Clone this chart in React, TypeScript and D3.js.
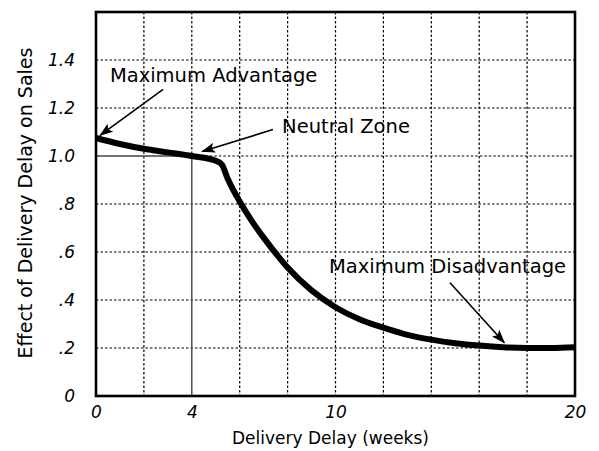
import { axisBottom, axisLeft, curveMonotoneX, line, scaleLinear, select } from "d3";
import { useEffect, useRef } from "react";

const WIDTH = 599;
const HEIGHT = 451;

// delivery delay in weeks
const delayWeeks = [
  0, 1, 2, 3, 4, 5, 5.25, 5.5, 6, 6.5, 7, 7.5, 8, 9, 10, 11, 12, 13, 14, 15, 16, 17, 18, 19, 20,
];
// effect of delivery delay on sales
const salesEffect = [
  1.075, 1.05, 1.03, 1.015, 1.0, 0.98, 0.965, 0.905, 0.81, 0.73, 0.66, 0.595, 0.535, 0.44, 0.37,
  0.32, 0.285, 0.255, 0.235, 0.22, 0.21, 0.203, 0.2, 0.2, 0.203,
];

const xTickValues = [0, 4, 10, 20];
const xGridValues = [2, 6, 8, 10, 12, 14, 16, 18];
const yTickValues = [0, 0.2, 0.4, 0.6, 0.8, 1.0, 1.2, 1.4];
const yTickLabels = ["0", ".2", ".4", ".6", ".8", "1.0", "1.2", "1.4"];

// annotation text + arrow, in data coords
const noteLabels = ["Maximum Advantage", "Neutral Zone", "Maximum Disadvantage"];
const noteTextAt = [
  [0.58, 1.31],
  [7.77, 1.094],
  [9.73, 0.514],
];
const noteArrowFrom = [
  [2.8, 1.278],
  [7.39, 1.11],
  [14.78, 0.472],
];
const noteArrowTo = [
  [0.17, 1.086],
  [4.43, 1.019],
  [17.05, 0.222],
];

const FONT = "'DejaVu Sans', sans-serif";

const DelayChart = () => {
  const ref = useRef<SVGSVGElement>(null);

  useEffect(() => {
    if (!ref.current) return;
    const svg = select(ref.current);
    svg.selectAll("*").remove();

    const left = 96;
    const right = 575;
    const top = 12;
    const bottom = 396;

    const x = scaleLinear().domain([0, 20]).range([left, right]);
    const y = scaleLinear().domain([0, 1.6]).range([bottom, top]);

    const defs = svg.append("defs");
    defs
      .append("marker")
      .attr("id", "head")
      .attr("viewBox", "0 0 14 10")
      .attr("refX", 13)
      .attr("refY", 5)
      .attr("markerWidth", 14)
      .attr("markerHeight", 10)
      .attr("markerUnits", "userSpaceOnUse")
      .attr("orient", "auto")
      .append("path")
      .attr("d", "M0,0 L14,5 L0,10 L3,5 Z")
      .attr("fill", "black");

    // dashed grid
    const grid = svg.append("g");
    grid
      .selectAll(".vgrid")
      .data(xGridValues)
      .join("line")
      .attr("x1", (d) => x(d))
      .attr("x2", (d) => x(d))
      .attr("y1", top)
      .attr("y2", bottom)
      .attr("stroke", "black")
      .attr("stroke-width", 1.2)
      .attr("stroke-dasharray", "2.5,2");
    grid
      .selectAll(".hgrid")
      .data(yTickValues.filter((v) => v > 0 && v !== 1.0))
      .join("line")
      .attr("x1", left)
      .attr("x2", right)
      .attr("y1", (d) => y(d))
      .attr("y2", (d) => y(d))
      .attr("stroke", "black")
      .attr("stroke-width", 1.2)
      .attr("stroke-dasharray", "2.5,2");
    // 1.0 row: solid up to week 4, dashed after
    grid
      .append("line")
      .attr("x1", x(4))
      .attr("x2", right)
      .attr("y1", y(1))
      .attr("y2", y(1))
      .attr("stroke", "black")
      .attr("stroke-width", 1.2)
      .attr("stroke-dasharray", "2.5,2");
    grid
      .append("line")
      .attr("x1", left)
      .attr("x2", x(4))
      .attr("y1", y(1))
      .attr("y2", y(1))
      .attr("stroke", "#444")
      .attr("stroke-width", 1.4);
    grid
      .append("line")
      .attr("x1", x(4))
      .attr("x2", x(4))
      .attr("y1", y(1))
      .attr("y2", bottom)
      .attr("stroke", "#444")
      .attr("stroke-width", 1.4);
    grid
      .append("line")
      .attr("x1", x(4))
      .attr("x2", x(4))
      .attr("y1", top)
      .attr("y2", y(1))
      .attr("stroke", "black")
      .attr("stroke-width", 1.2)
      .attr("stroke-dasharray", "2.5,2");

    // axes (only labels, frame drawn separately)
    const xAxis = axisBottom(x)
      .tickValues(xTickValues)
      .tickSize(0)
      .tickPadding(10)
      .tickFormat((d) => String(d));
    const gx = svg.append("g").attr("transform", `translate(0,${bottom})`).call(xAxis);
    gx.select(".domain").remove();
    gx.selectAll("text")
      .attr("font-family", FONT)
      .attr("font-style", "italic")
      .attr("font-size", 17)
      .attr("fill", "black");

    const yAxis = axisLeft(y)
      .tickValues(yTickValues)
      .tickSize(0)
      .tickPadding(21)
      .tickFormat((_, i) => yTickLabels[i]);
    const gy = svg.append("g").attr("transform", `translate(${left},0)`).call(yAxis);
    gy.select(".domain").remove();
    gy.selectAll("text")
      .attr("font-family", FONT)
      .attr("font-style", "italic")
      .attr("font-size", 17)
      .attr("fill", "black");

    // frame
    svg
      .append("rect")
      .attr("x", left)
      .attr("y", top)
      .attr("width", right - left)
      .attr("height", bottom - top)
      .attr("fill", "none")
      .attr("stroke", "black")
      .attr("stroke-width", 2.6);

    // curve
    const points = delayWeeks.map((w, i) => [w, salesEffect[i]] as [number, number]);
    const path = line<[number, number]>()
      .x((d) => x(d[0]))
      .y((d) => y(d[1]))
      .curve(curveMonotoneX);
    svg
      .append("path")
      .attr("d", path(points))
      .attr("fill", "none")
      .attr("stroke", "black")
      .attr("stroke-width", 6)
      .attr("stroke-linejoin", "round");

    // annotations
    noteLabels.forEach((label, i) => {
      svg
        .append("line")
        .attr("x1", x(noteArrowFrom[i][0]))
        .attr("y1", y(noteArrowFrom[i][1]))
        .attr("x2", x(noteArrowTo[i][0]))
        .attr("y2", y(noteArrowTo[i][1]))
        .attr("stroke", "black")
        .attr("stroke-width", 1.6)
        .attr("marker-end", "url(#head)");
      svg
        .append("text")
        .attr("x", x(noteTextAt[i][0]))
        .attr("y", y(noteTextAt[i][1]))
        .attr("font-family", FONT)
        .attr("font-size", 19.5)
        .attr("fill", "black")
        .text(label);
    });

    // axis titles
    svg
      .append("text")
      .attr("x", (left + right) / 2 - 5)
      .attr("y", 444)
      .attr("text-anchor", "middle")
      .attr("font-family", FONT)
      .attr("font-size", 17)
      .text("Delivery Delay (weeks)");
    svg
      .append("text")
      .attr("transform", `translate(32,203) rotate(-90)`)
      .attr("text-anchor", "middle")
      .attr("font-family", FONT)
      .attr("font-size", 19)
      .text("Effect of Delivery Delay on Sales");
  }, []);

  return (
    <svg
      ref={ref}
      width={WIDTH}
      height={HEIGHT}
      style={{ position: "absolute", left: 0, top: 0, background: "white" }}
    />
  );
};

export default function App() {
  return <DelayChart />;
}
